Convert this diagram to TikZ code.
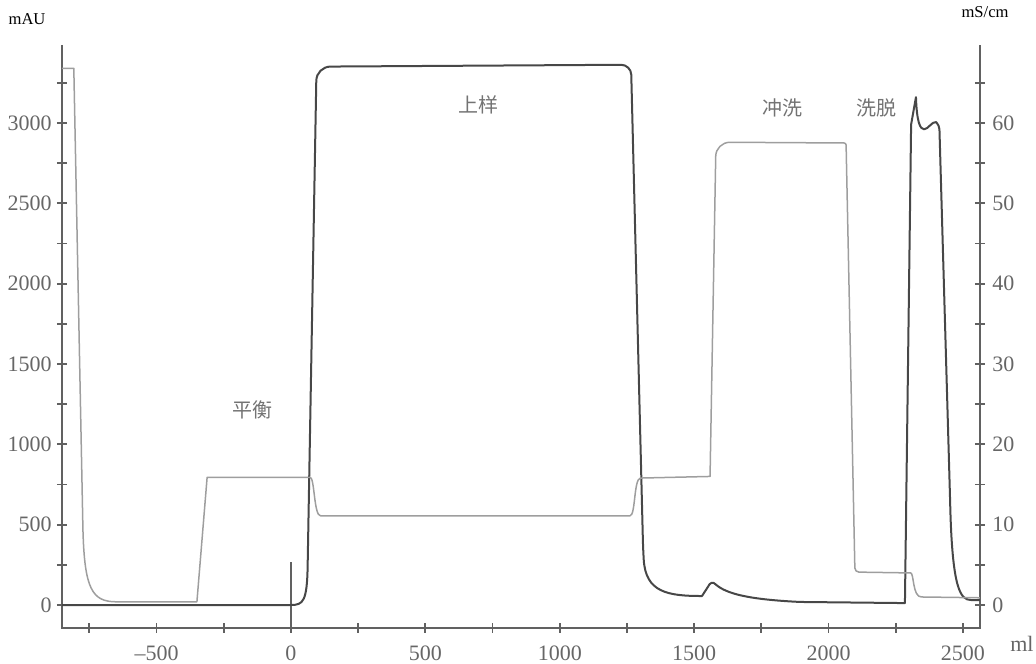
\documentclass[tikz,border=0pt]{standalone}
\usepackage{fontspec}
\setmainfont{Liberation Serif}
\newfontfamily\cjk{Noto Sans CJK SC}
\usepackage{tikz}

\tikzset{
  axisline/.style={line width=0.9pt,black!62},
  uvline/.style={line width=1pt,black!72,line join=round},
  condline/.style={line width=0.75pt,black!38,line join=round},
  ticklabel/.style={inner sep=0pt,text=black!60,font=\fontsize{11}{11}\selectfont},
  unitlabel/.style={inner sep=0pt,font=\fontsize{8.3}{9}\selectfont},
  phaselabel/.style={inner sep=0pt,text=black!55,font=\cjk\fontsize{10}{10}\selectfont}
}

\begin{document}
\begin{tikzpicture}[x=0.1344pt,y=0.08035pt]
  \useasboundingbox (-1082.6,-360.9) rectangle (2771.6,3764.8);
  % axes
  \draw[axisline] (-852,3485) -- (-852,-143) -- (2563,-143) -- (2563,3485);
  \foreach \y in {0,250,...,3250}
    \draw[axisline] (-852,\y) ++(-2.5pt,0) -- ++(5pt,0);
  \foreach \x in {-750,-500,...,2500}
    \draw[axisline] (\x,-143) ++(0,-2.5pt) -- ++(0,5pt);
  \draw[axisline] (0,-143) -- (0,268);
  \foreach \y in {0,500,...,3000}
    \node[ticklabel,anchor=east] (l\y) at ([xshift=-5pt]-852,\y) {\y};
  \foreach \x/\t [count=\i] in {-500/\textendash500,0/0,500/500,1000/1000,1500/1500,2000/2000,2500/2500}
    \node[ticklabel,anchor=north] (b\i) at ([yshift=-8.5pt]\x,-143) {\t};
  % UV trace
  \draw[uvline] (-852,0) -- (0,0) .. controls (45,0) and (60,20) .. (62,250)
    [rounded corners=7pt] -- (95,3350) [rounded corners=5pt] -- (1265,3362) -- (1310,342) [sharp corners]
    .. controls (1320,80) and (1400,56) .. (1529,56)
    -- (1550,110) .. controls (1560,145) and (1570,145) .. (1580,128)
    .. controls (1620,70) and (1700,35) .. (1894,19) -- (2284,12)
    -- (2307,2990) .. controls (2316,3080) .. (2325,3160)
    .. controls (2328,3010) and (2340,2960) .. (2355,2960)
    .. controls (2370,2960) and (2385,3010) .. (2400,3005)
    [rounded corners=2pt] -- (2412,2985) -- (2452,653) [sharp corners]
    .. controls (2460,100) and (2490,31) .. (2530,31) -- (2563,31);
  % conductivity trace, mS/cm
  \begin{scope}[y=4.0175pt]
    \foreach \y in {0,5,...,65}
      \draw[axisline] (2563,\y) ++(-2.5pt,0) -- ++(5pt,0);
    \foreach \y in {0,10,...,60}
      \node[ticklabel,anchor=west] (r\y) at ([xshift=6pt]2563,\y) {\y};
    \draw[condline] (-852,66.8) -- (-808,66.8) -- (-774,9.3) .. controls (-768,2) and (-740,0.4) .. (-650,0.4)
      -- (-350,0.4) -- (-312,15.9) -- (71,15.9) .. controls (88,15.9) and (85,11.1) .. (110,11.1)
      -- (1261,11.1) .. controls (1282,11.1) and (1275,15.7) .. (1300,15.8) -- (1559,16)
      [rounded corners=7pt] -- (1581,57.6) [rounded corners=1pt] -- (2065,57.5) [rounded corners=2pt] -- (2098,4.1)
      -- (2290,4.0) [sharp corners] .. controls (2318,4.0) and (2312,1.0) .. (2345,1.0) -- (2563,0.9);
  \end{scope}
  % labels
  \node[unitlabel] (mau) at (-982,3647) {mAU};
  \node[unitlabel] (mscm) at (2582,3690) {mS/cm};
  \node[ticklabel] (ml) at (2719,-243) {ml};
  \node[phaselabel] (equil) at (-145,1213) {平衡};
  \node[phaselabel] (load) at (696,3111) {上样};
  \node[phaselabel] (wash) at (1827,3093) {冲洗};
  \node[phaselabel] (elute) at (2180,3093) {洗脱};
\end{tikzpicture}
\end{document}
